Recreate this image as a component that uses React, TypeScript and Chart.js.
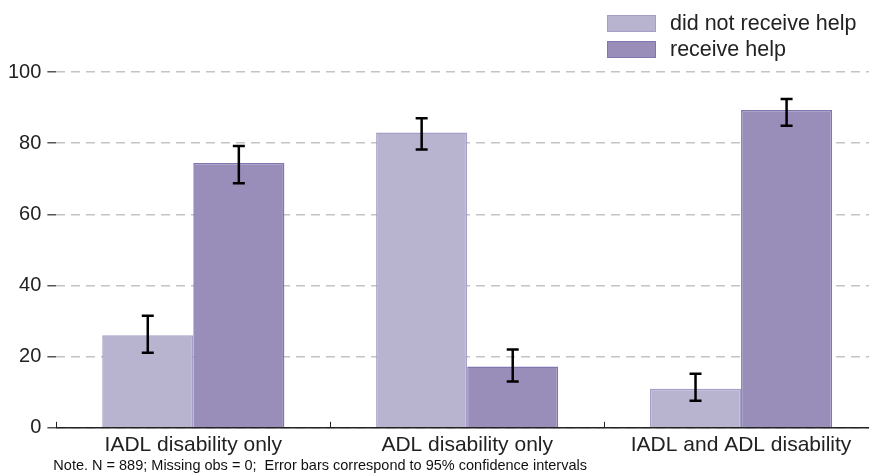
import React, { useEffect, useRef } from "react";
import { Chart, registerables } from "chart.js";

Chart.register(...registerables);

const categories = ["IADL disability only", "ADL disability only", "IADL and ADL disability"];
const seriesNames = ["did not receive help", "receive help"];
const notHelped = [26, 83, 11];
const notHelpedLow = [21.1, 78.2, 7.6];
const notHelpedHigh = [31.5, 87.0, 15.2];
const helped = [74.4, 17.2, 89.3];
const helpedLow = [68.7, 13.0, 84.9];
const helpedHigh = [79.2, 22.0, 92.4];
const yTicks = [0, 20, 40, 60, 80, 100];
const noteText = "Note. N = 889; Missing obs = 0;  Error bars correspond to 95% confidence intervals";

const lowArrays = [notHelpedLow, helpedLow];
const highArrays = [notHelpedHigh, helpedHigh];

const FONT = "'Liberation Sans', Arial, sans-serif";

const errorBarPlugin = {
  id: "errorBars",
  afterDatasetsDraw(chart: any) {
    const ctx = chart.ctx;
    const yScale = chart.scales.y;
    ctx.save();
    ctx.strokeStyle = "#000";
    ctx.lineWidth = 2.5;
    chart.data.datasets.forEach((_ds: any, di: number) => {
      const meta = chart.getDatasetMeta(di);
      meta.data.forEach((bar: any, i: number) => {
        const x = bar.x;
        const yl = yScale.getPixelForValue(lowArrays[di][i]);
        const yh = yScale.getPixelForValue(highArrays[di][i]);
        const cap = 6;
        ctx.beginPath();
        ctx.moveTo(x, yl);
        ctx.lineTo(x, yh);
        ctx.moveTo(x - cap, yl);
        ctx.lineTo(x + cap, yl);
        ctx.moveTo(x - cap, yh);
        ctx.lineTo(x + cap, yh);
        ctx.stroke();
      });
    });
    ctx.restore();
  },
};

const boundaryTickPlugin = {
  id: "boundaryTicks",
  afterDraw(chart: any) {
    const ctx = chart.ctx;
    const xScale = chart.scales.x;
    const n = chart.data.labels.length;
    const step = n > 1 ? xScale.getPixelForValue(1) - xScale.getPixelForValue(0) : xScale.width;
    const bottom = chart.chartArea.bottom;
    ctx.save();
    ctx.strokeStyle = "#222";
    ctx.lineWidth = 1;
    for (let i = 0; i <= n; i++) {
      const x = Math.round(xScale.getPixelForValue(0) - step / 2 + i * step) + 0.5;
      ctx.beginPath();
      ctx.moveTo(x, bottom);
      ctx.lineTo(x, bottom - 6);
      ctx.stroke();
    }
    ctx.restore();
  },
};

const legendNotePlugin = {
  id: "legendNote",
  afterDraw(chart: any) {
    const ctx = chart.ctx;
    ctx.save();
    const bx = 607;
    const bw = 49;
    const bh = 17;
    const rows = [15, 41];
    chart.data.datasets.forEach((ds: any, i: number) => {
      const y = rows[i];
      ctx.fillStyle = ds.backgroundColor;
      ctx.fillRect(bx, y, bw, bh);
      ctx.strokeStyle = ds.borderColor;
      ctx.lineWidth = 1;
      ctx.strokeRect(bx + 0.5, y + 0.5, bw - 1, bh - 1);
      ctx.fillStyle = "#222";
      ctx.font = `21.5px ${FONT}`;
      ctx.textBaseline = "middle";
      ctx.textAlign = "left";
      ctx.fillText(ds.label, 670, y + bh / 2 + 1);
    });
    ctx.fillStyle = "#111";
    ctx.font = `14.5px ${FONT}`;
    ctx.textBaseline = "middle";
    ctx.textAlign = "left";
    ctx.fillText(noteText, chart.chartArea.left - 3, 466);
    ctx.restore();
  },
};

export default function App() {
  const ref = useRef<HTMLCanvasElement | null>(null);

  useEffect(() => {
    document.documentElement.style.overflow = "hidden";
    document.body.style.overflow = "hidden";
    const canvas = ref.current;
    if (!canvas) return;
    const chart = new Chart(canvas, {
      type: "bar",
      data: {
        labels: categories,
        datasets: [
          {
            label: seriesNames[0],
            data: notHelped,
            backgroundColor: "#b8b4d0",
            borderColor: "#a59ec8",
            borderWidth: 1.5,
          },
          {
            label: seriesNames[1],
            data: helped,
            backgroundColor: "#998eba",
            borderColor: "#8276b0",
            borderWidth: 1.5,
          },
        ],
      },
      options: {
        animation: false,
        responsive: false,
        maintainAspectRatio: false,
        layout: { padding: { top: 72, left: 2, right: 0, bottom: 12 } },
        plugins: {
          legend: { display: false },
          tooltip: { enabled: false },
          title: { display: false },
        },
        datasets: {
          bar: { categoryPercentage: 0.665, barPercentage: 1.0 },
        },
        scales: {
          x: {
            grid: { display: false, drawTicks: false },
            border: { display: true, color: "#222", width: 1.5 },
            ticks: {
              padding: 5,
              color: "#222",
              font: { family: FONT, size: 21 },
            },
          },
          y: {
            min: 0,
            max: 100,
            afterBuildTicks: (scale: any) => {
              scale.ticks = yTicks.map((v) => ({ value: v }));
            },
            grid: {
              color: "#c4c4c4",
              lineWidth: 1.5,
              tickLength: 9,
              tickColor: "#555",
              tickWidth: 1.5,
            },
            border: { display: false, dash: [9, 6] },
            ticks: {
              padding: 6,
              color: "#222",
              font: { family: FONT, size: 20 },
            },
          },
        },
      },
      plugins: [errorBarPlugin, boundaryTickPlugin, legendNotePlugin],
    });
    return () => chart.destroy();
  }, []);

  return (
    <div style={{ position: "absolute", left: 0, top: 0, width: 878, height: 475, overflow: "hidden" }}>
      <canvas ref={ref} width={878} height={475} style={{ width: 878, height: 475, display: "block" }} />
    </div>
  );
}
